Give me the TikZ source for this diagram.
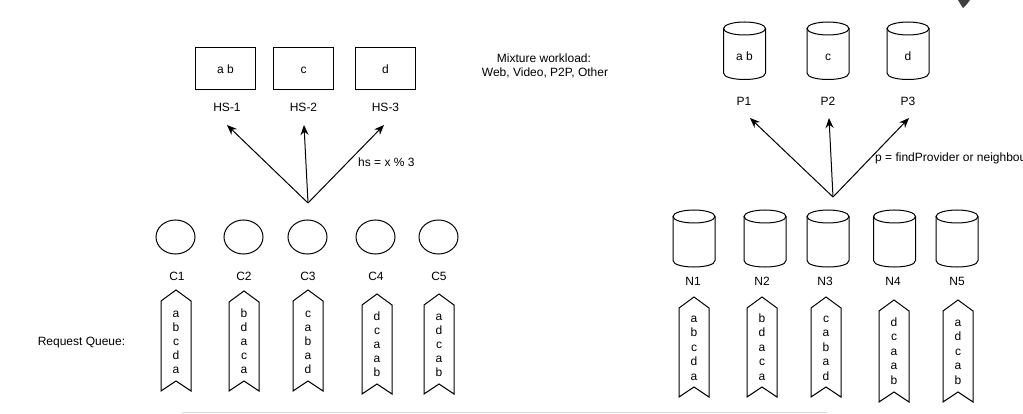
\documentclass[tikz,border=0pt]{standalone}
\usepackage{fontspec}
\setmainfont{Liberation Sans}
\usetikzlibrary{shapes.geometric,arrows.meta}
\newcommand\mycyl[3]{%
  \draw[cylpath] (#1-21,#2+6.5) -- (#1-21,#3-6.5) .. controls (#1-21,#3+2.17) and (#1+21,#3+2.17) .. (#1+21,#3-6.5) -- (#1+21,#2+6.5);
  \draw[cylpath] (#1,#2+6.5) ellipse[x radius=21pt,y radius=6.5pt];
}
\newcommand\myrib[3]{%
  \draw[ribbon] (#1-15,#2+11) -- (#1,#2) -- (#1+15,#2+11) -- (#1+15,#3) -- (#1,#3-10) -- (#1-15,#3) -- cycle;
}
\newcommand\myqueue[5]{%
  \foreach \L [count=\i] in {#5} \node[lbl] (#1-\i) at (#2,{#3+#4*(\i-1)}) {\L};
}
\begin{document}
\begin{tikzpicture}[x=1pt,y=-1pt,
  txt/.style={inner sep=0pt,font=\fontsize{12}{14}\selectfont},
  lbl/.style={txt,anchor=base},
  hsbox/.style={draw,line width=1pt,minimum width=60pt,minimum height=42pt,inner sep=0pt},
  circ/.style={draw,ellipse,line width=1pt,minimum width=39pt,minimum height=34pt,inner sep=0pt},
  ribbon/.style={draw,line width=1pt,line join=miter},
  cylpath/.style={draw,line width=1pt},
  arr/.style={line width=1pt,-{Stealth[length=10pt,width=8pt]}},
  sep/.style={draw=black!14,line width=1pt}
]
\useasboundingbox (0,0) rectangle (1023,414);
\clip (0,0) rectangle (1023,414);
\fill[white] (0,0) rectangle (1023,414);

% ---------- left half ----------
\node[hsbox] (hs1) at (225.5,69) {};
\node[hsbox] (hs2) at (303.5,69) {};
\node[hsbox] (hs3) at (385.5,69) {};
\node[lbl] (hs1t) at (225.5,73.3) {a b};
\node[lbl] (hs2t) at (303.5,73.3) {c};
\node[lbl] (hs3t) at (385.5,73.3) {d};
\node[lbl] (hs1l) at (227,111.7) {HS-1};
\node[lbl] (hs2l) at (303.5,111.7) {HS-2};
\node[lbl] (hs3l) at (385.5,111.7) {HS-3};

\coordinate (hsrc) at (308,203);
\coordinate (htip1) at (227,125);
\coordinate (htip2) at (304,125);
\coordinate (htip3) at (384,125);
\draw[arr] (hsrc) -- (htip1);
\draw[arr] (hsrc) -- (htip2);
\draw[arr] (hsrc) -- (htip3);
\node[lbl,anchor=base west] (hsrule) at (358,166.5) {hs = x \% 3};

\node[circ] (c1) at (175.5,237) {};
\node[circ] (c2) at (243.5,237) {};
\node[circ] (c3) at (307.5,237) {};
\node[circ] (c4) at (375.5,237) {};
\node[circ] (c5) at (438.5,237) {};
\node[lbl] (c1l) at (177,280) {C1};
\node[lbl] (c2l) at (244,280) {C2};
\node[lbl] (c3l) at (308,280) {C3};
\node[lbl] (c4l) at (376,280) {C4};
\node[lbl] (c5l) at (439,280) {C5};

\myrib{176}{290}{391}
\myrib{244}{291}{391}
\myrib{308}{290}{391}
\myrib{377}{294}{394}
\myrib{439}{294}{394}
\myqueue{lq1}{176}{317}{14}{a,b,c,d,a}
\myqueue{lq2}{244}{317}{14}{b,d,a,c,a}
\myqueue{lq3}{308}{317}{14}{c,a,b,a,d}
\myqueue{lq4}{377}{320.5}{14}{d,c,a,a,b}
\myqueue{lq5}{439}{320.5}{14}{a,d,c,a,b}

\node[lbl] (rq) at (81.5,345) {Request Queue:};

% ---------- middle ----------
\node[lbl] (mix1) at (544,63) {Mixture workload:};
\node[lbl] (mix2) at (545,77) {Web, Video, P2P, Other};

% ---------- right half ----------
\mycyl{744.5}{22}{79.5}
\mycyl{828}{22}{79.5}
\mycyl{908}{22}{79.5}
\node[lbl] (p1t) at (744.5,60.7) {a b};
\node[lbl] (p2t) at (828,60.7) {c};
\node[lbl] (p3t) at (908,60.7) {d};
\node[lbl] (p1l) at (744,105.7) {P1};
\node[lbl] (p2l) at (828,105.7) {P2};
\node[lbl] (p3l) at (908,105.7) {P3};

\coordinate (psrc) at (833,197);
\coordinate (ptip1) at (750,118);
\coordinate (ptip2) at (829,118);
\coordinate (ptip3) at (909,118);
\draw[arr] (psrc) -- (ptip1);
\draw[arr] (psrc) -- (ptip2);
\draw[arr] (psrc) -- (ptip3);
\node[lbl,anchor=base west] (prule) at (875,162) {p = findProvider or neighbour};

\mycyl{694}{210}{267}
\mycyl{765}{210}{267}
\mycyl{828}{210}{267}
\mycyl{894.5}{210}{267}
\mycyl{957}{210}{267}
\node[lbl] (n1l) at (693,286) {N1};
\node[lbl] (n2l) at (762,286) {N2};
\node[lbl] (n3l) at (825,286) {N3};
\node[lbl] (n4l) at (893,286) {N4};
\node[lbl] (n5l) at (957,286) {N5};

\myrib{694}{297}{397}
\myrib{762}{297}{397}
\myrib{826}{297}{397}
\myrib{894}{300}{402}
\myrib{958}{300}{402}
\myqueue{rq1}{694}{322}{14.5}{a,b,c,d,a}
\myqueue{rq2}{762}{322}{14.5}{b,d,a,c,a}
\myqueue{rq3}{826}{322}{14.5}{c,a,b,a,d}
\myqueue{rq4}{894}{326}{14.5}{d,c,a,a,b}
\myqueue{rq5}{958}{326}{14.5}{a,d,c,a,b}

% separator and cursor
\draw[sep] (182,412.5) -- (827,412.5);
\fill[black!75] (958,0) -- (970,0) -- (967,4) -- (963,8) -- (961,5) -- cycle;
\end{tikzpicture}
\end{document}
